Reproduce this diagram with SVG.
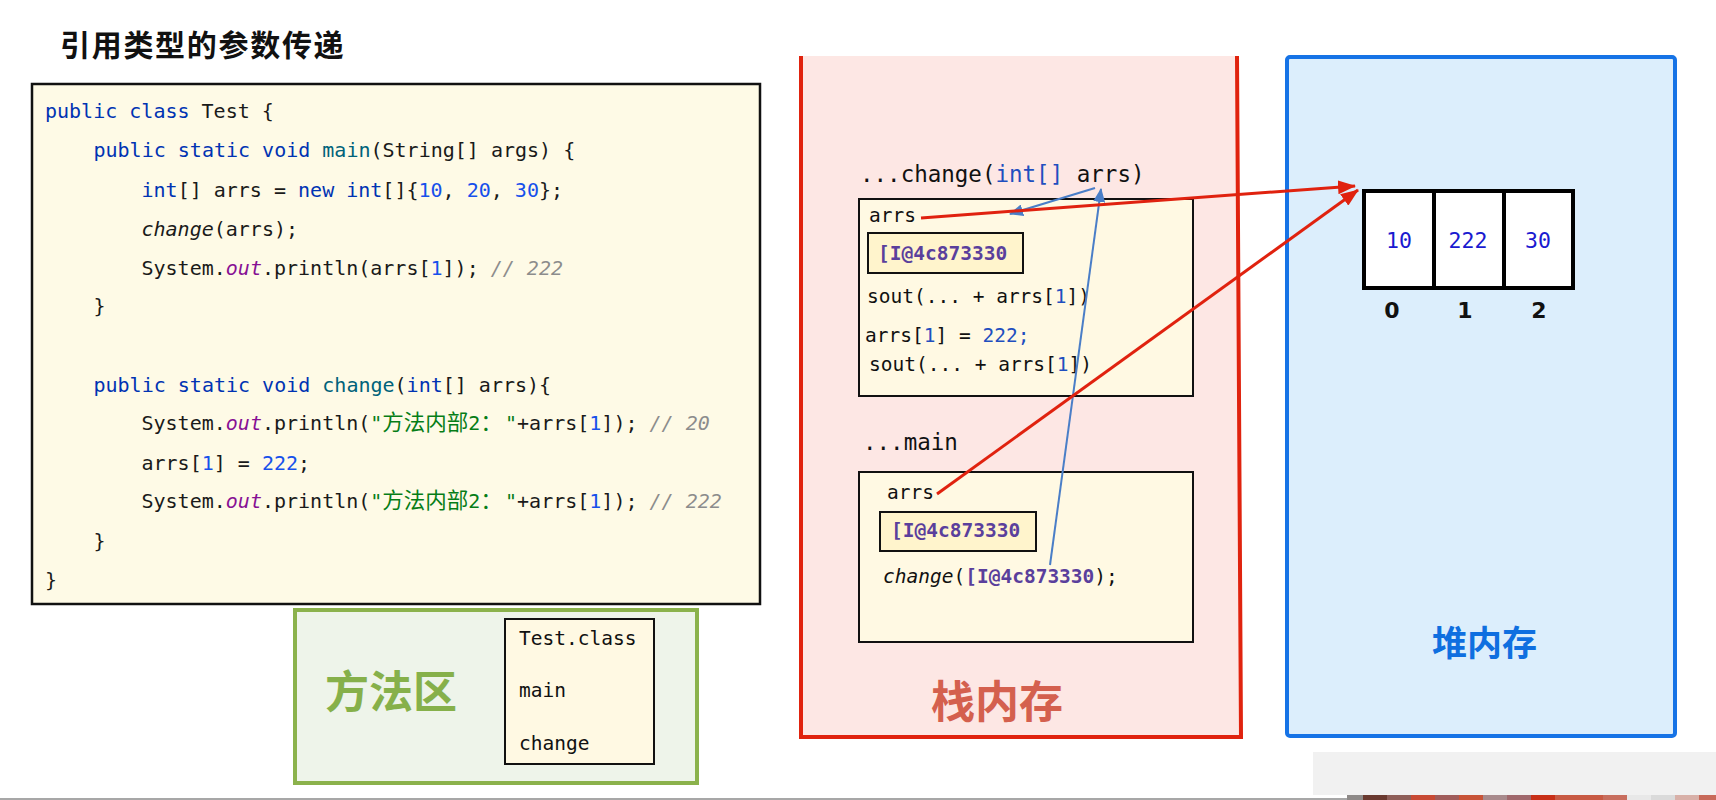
<svg xmlns="http://www.w3.org/2000/svg" width="1716" height="800" viewBox="0 0 1716 800">
<style>
.code{font-family:"DejaVu Sans Mono","Liberation Mono",monospace;font-size:20px;fill:#1a1a1a;white-space:pre}
.kw{fill:#0033B3}
.mn{fill:#00627A}
.num{fill:#1750EB}
.str{fill:#067D17}
.fld{fill:#871094;font-style:italic}
.cmt{fill:#8C8C8C;font-style:italic}
.it{font-style:italic}
.cjk{font-family:"Noto Sans CJK SC",sans-serif;font-size:21.5px}
.mono{font-family:"DejaVu Sans Mono","Liberation Mono",monospace;font-size:19.5px;fill:#111;white-space:pre}
.hdr{font-family:"DejaVu Sans Mono","Liberation Mono",monospace;font-size:22.5px;fill:#111;white-space:pre}
.addr{fill:#5A3F9C;font-weight:bold}
.kb{fill:#1F4FBF}
.frame{fill:#FFF9E3;stroke:#111;stroke-width:2}
.abox{fill:#FFF4CC;stroke:#111;stroke-width:2}
.big{font-family:"Noto Sans CJK SC",sans-serif;font-weight:bold}
.val{font-family:"DejaVu Sans Mono",monospace;font-size:21.5px;fill:#1A1AD0;text-anchor:middle}
.idx{font-family:"DejaVu Sans","Liberation Sans",sans-serif;font-size:22px;font-weight:bold;fill:#111;text-anchor:middle}
.red{stroke:#E0220F;stroke-width:3;fill:none}
.blue{stroke:#4A7EC7;stroke-width:2;fill:none}
</style>
<defs>
<marker id="ar" markerUnits="userSpaceOnUse" markerWidth="18" markerHeight="14" refX="17" refY="7" orient="auto"><path d="M0,0 L18,7 L0,14 z" fill="#E0220F"/></marker>
<marker id="ab" markerUnits="userSpaceOnUse" markerWidth="14" markerHeight="12" refX="13" refY="6" orient="auto"><path d="M0,0 L14,6 L0,12 z" fill="#4A7EC7"/></marker>
</defs>
<rect width="1716" height="800" fill="#ffffff"/>

<g id="title">
<text x="60" y="56" class="big" font-size="30" letter-spacing="1.7" fill="#111">引用类型的参数传递</text>
</g>

<g id="code">
<rect x="32" y="84" width="728" height="520" fill="#FEFAE6" stroke="#111" stroke-width="2.5"/>
<text class="code" x="45" y="118"><tspan class="kw">public</tspan> <tspan class="kw">class</tspan> Test {</text>
<text class="code" x="93.5" y="157"><tspan class="kw">public</tspan> <tspan class="kw">static</tspan> <tspan class="kw">void</tspan> <tspan class="mn">main</tspan>(String[] args) {</text>
<text class="code" x="141.5" y="197"><tspan class="kw">int</tspan>[] arrs = <tspan class="kw">new</tspan> <tspan class="kw">int</tspan>[]{<tspan class="num">10</tspan>, <tspan class="num">20</tspan>, <tspan class="num">30</tspan>};</text>
<text class="code" x="141.5" y="236"><tspan class="it">change</tspan>(arrs);</text>
<text class="code" x="141.5" y="275">System.<tspan class="fld">out</tspan>.println(arrs[<tspan class="num">1</tspan>]); <tspan class="cmt">// 222</tspan></text>
<text class="code" x="93.5" y="313">}</text>
<text class="code" x="93.5" y="392"><tspan class="kw">public</tspan> <tspan class="kw">static</tspan> <tspan class="kw">void</tspan> <tspan class="mn">change</tspan>(<tspan class="kw">int</tspan>[] arrs){</text>
<text class="code" x="141.5" y="430">System.<tspan class="fld">out</tspan>.println(<tspan class="str">"<tspan class="cjk">方法内部</tspan>2<tspan class="cjk">：</tspan></tspan><tspan x="505" class="str">"</tspan>+arrs[<tspan class="num">1</tspan>]); <tspan class="cmt">// 20</tspan></text>
<text class="code" x="141.5" y="470">arrs[<tspan class="num">1</tspan>] = <tspan class="num">222</tspan>;</text>
<text class="code" x="141.5" y="508">System.<tspan class="fld">out</tspan>.println(<tspan class="str">"<tspan class="cjk">方法内部</tspan>2<tspan class="cjk">：</tspan></tspan><tspan x="505" class="str">"</tspan>+arrs[<tspan class="num">1</tspan>]); <tspan class="cmt">// 222</tspan></text>
<text class="code" x="93.5" y="548">}</text>
<text class="code" x="45" y="587">}</text>
</g>

<g id="method-area">
<rect x="295" y="610" width="402" height="173" fill="#EEF4EA" stroke="#8BB24C" stroke-width="4"/>
<text x="325" y="708" class="big" font-size="44" fill="#86B04A">方法区</text>
<rect x="505" y="619" width="149" height="145" class="frame"/>
<text class="mono" x="519" y="645">Test.class</text>
<text class="mono" x="519" y="697">main</text>
<text class="mono" x="519" y="750">change</text>
</g>

<g id="stack">
<polygon points="801,56 1237,56 1241,737 801,737" fill="#FDE7E4"/>
<polyline points="801,56 801,737 1241,737 1237,56" fill="none" stroke="#E0230E" stroke-width="4"/>
<text x="931" y="718" class="big" font-size="44" fill="#D4604E">栈内存</text>
</g>

<g id="change-frame">
<text class="hdr" x="860" y="182">...change(<tspan class="kb">int[]</tspan> arrs)</text>
<rect x="859" y="199" width="334" height="197" class="frame"/>
<text class="mono" x="869" y="222">arrs</text>
<rect x="868" y="233" width="155" height="40" class="abox"/>
<text class="mono" x="878" y="260"><tspan class="addr">[I@4c873330</tspan></text>
<text class="mono" x="867" y="303">sout(... + arrs[<tspan class="kb">1</tspan>])</text>
<text class="mono" x="865" y="342">arrs[<tspan class="kb">1</tspan>] = <tspan class="kb">222;</tspan></text>
<text class="mono" x="869" y="371">sout(... + arrs[<tspan class="kb">1</tspan>])</text>
</g>

<g id="main-frame">
<text class="hdr" x="863" y="450">...main</text>
<rect x="859" y="472" width="334" height="170" class="frame"/>
<text class="mono" x="887" y="499">arrs</text>
<rect x="880" y="512" width="156" height="39" class="abox"/>
<text class="mono" x="891" y="537"><tspan class="addr">[I@4c873330</tspan></text>
<text class="mono" x="883" y="583"><tspan class="it">change</tspan>(<tspan class="addr">[I@4c873330</tspan>);</text>
</g>

<g id="heap">
<rect x="1287" y="57" width="388" height="679" rx="3" fill="#DCEEFC" stroke="#1673E6" stroke-width="4"/>
<text x="1432" y="656" class="big" font-size="35" fill="#0F6FE0">堆内存</text>
</g>

<g id="array">
<rect x="1364" y="191" width="209" height="97" fill="#ffffff" stroke="#000" stroke-width="4"/>
<line x1="1434" y1="191" x2="1434" y2="288" stroke="#000" stroke-width="4"/>
<line x1="1504" y1="191" x2="1504" y2="288" stroke="#000" stroke-width="4"/>
<text class="val" x="1399" y="248">10</text>
<text class="val" x="1468" y="248">222</text>
<text class="val" x="1538" y="248">30</text>
<text class="idx" x="1392" y="318">0</text>
<text class="idx" x="1465" y="318">1</text>
<text class="idx" x="1539" y="318">2</text>
</g>

<g id="connectors">
<line class="blue" x1="1095" y1="188" x2="1010" y2="214" marker-end="url(#ab)"/>
<line class="blue" x1="1050" y1="565" x2="1101" y2="189" marker-end="url(#ab)"/>
<line class="red" x1="921" y1="218" x2="1355" y2="186" marker-end="url(#ar)"/>
<line class="red" x1="937" y1="494" x2="1358" y2="190" marker-end="url(#ar)"/>
</g>

<g id="player-strip">
<rect x="1313" y="752" width="403" height="43" fill="#F1F1F1"/>
<line x1="0" y1="799" x2="1347" y2="799" stroke="#8a8a8a" stroke-width="1.5"/>
<rect x="1347" y="795" width="16" height="5" fill="#8E8A88"/>
<rect x="1363" y="795" width="24" height="5" fill="#6A3A30"/>
<rect x="1387" y="795" width="24" height="5" fill="#8E5E58"/>
<rect x="1411" y="795" width="24" height="5" fill="#C84A34"/>
<rect x="1435" y="795" width="24" height="5" fill="#A05C5A"/>
<rect x="1459" y="795" width="24" height="5" fill="#C85438"/>
<rect x="1483" y="795" width="24" height="5" fill="#A88A8C"/>
<rect x="1507" y="795" width="24" height="5" fill="#A0686C"/>
<rect x="1531" y="795" width="24" height="5" fill="#C83018"/>
<rect x="1555" y="795" width="48" height="5" fill="#C85A44"/>
<rect x="1603" y="795" width="24" height="5" fill="#C86E5E"/>
<rect x="1627" y="795" width="24" height="5" fill="#E8E8E8"/>
<rect x="1651" y="795" width="24" height="5" fill="#DADADA"/>
<rect x="1675" y="795" width="24" height="5" fill="#D8B0A8"/>
<rect x="1699" y="795" width="17" height="5" fill="#C86A5A"/>
</g>
</svg>
